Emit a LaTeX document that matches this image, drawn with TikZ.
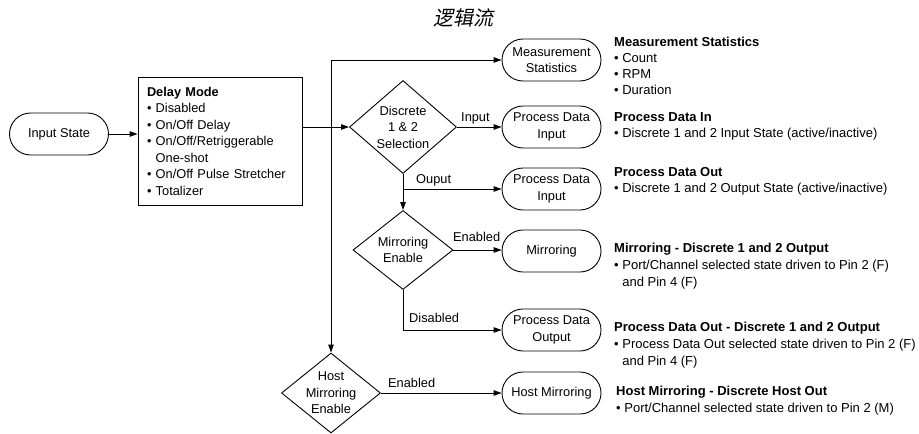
\documentclass[tikz,border=0pt]{standalone}
\usepackage{fontspec}
\setmainfont{Liberation Sans}
\newfontfamily\cjkfont[FakeSlant=0.2]{Noto Sans CJK SC}
\usetikzlibrary{arrows.meta,shapes.geometric}
\begin{document}
\begin{tikzpicture}[x=1pt,y=-1pt,
  every node/.style={font=\fontsize{12.8}{16.5}\selectfont},
  conn/.style={line width=0.9pt, -{Triangle[length=8pt,width=5.5pt]}},
  stadium/.style={draw, line width=0.9pt, rectangle, rounded corners=21pt,
    minimum width=99pt, minimum height=42pt, align=center, inner sep=0pt},
  decision/.style={draw, line width=0.9pt, diamond, inner sep=0pt},
  dtext/.style={align=center, inner sep=0pt},
  desc/.style={anchor=north west, align=left, inner sep=0pt},
  lbl/.style={anchor=base west, inner sep=0pt},
]
\useasboundingbox (0,0) rectangle (919,434);

% heading
\node[font=\cjkfont\fontsize{20}{24}\selectfont, inner sep=0pt] (title) at (463,18) {逻辑流};

% input and delay mode
\node[stadium] (input) at (59,134) {Input State};
\node[draw, line width=0.9pt, minimum width=164pt, minimum height=128pt,
      text width=146pt, inner xsep=9pt, inner ysep=0pt, align=left] (delay) at (220,141)
  {\textbf{Delay Mode}\\
   • Disabled\\
   • On/Off Delay\\
   • On/Off/Retriggerable\\
   \phantom{• }One-shot\\
   • On/Off Pulse Stretcher\\
   • Totalizer};

% decisions
\node[decision, minimum width=107pt, minimum height=93pt] (sel) at (403,127) {};
\node[dtext] (selT) at (sel) {Discrete\\1 \& 2\\Selection};
\node[decision, minimum width=100pt, minimum height=79pt] (mir) at (403,250) {};
\node[dtext] (mirT) at (mir) {Mirroring\\Enable};
\node[decision, minimum width=99pt, minimum height=80pt] (host) at (331,393) {};
\node[dtext] (hostT) at (host) {Host\\Mirroring\\Enable};

% outputs
\node[stadium] (meas)  at (551.5,60)  {Measurement\\Statistics};
\node[stadium] (pdi)   at (551.5,127) {Process Data\\Input};
\node[stadium] (pdo1)  at (551.5,189) {Process Data\\Input};
\node[stadium] (mirN)  at (551.5,251) {Mirroring};
\node[stadium] (pdo2)  at (551.5,330) {Process Data\\Output};
\node[stadium] (hostN) at (551.5,393) {Host Mirroring};

% connectors
\coordinate (split) at (331,127);
\coordinate (outJ) at (sel.south |- pdo1.west);
\draw[conn] (input.east) -- (delay.west |- input.east);
\draw[conn] (delay.east |- sel.west) -- (sel.west);
\draw[conn] (split) |- (meas.west);
\draw[conn] (split) -- (host.north);
\draw[conn] (sel.east) -- (pdi.west);
\draw[conn] (sel.south) -- (mir.north);
\draw[conn] (outJ) -- (pdo1.west);
\draw[conn] (mir.east) -- (mirN.west |- mir.east);
\draw[conn] (mir.south) |- (pdo2.west);
\draw[conn] (host.east) -- (hostN.west |- host.east);

% branch labels
\node[lbl] (lInput) at (461,121.5) {Input};
\node[lbl] (lOut)   at (416,183)   {Ouput};
\node[lbl] (lEn1)   at (453,241.5) {Enabled};
\node[lbl] (lDis)   at (409,322.5) {Disabled};
\node[lbl] (lEn2)   at (388,387.5) {Enabled};

% descriptions
\node[desc, font=\fontsize{13}{16}\selectfont] (dMeas) at (614,37.2)
  {\textbf{Measurement Statistics}\\• Count\\• RPM\\• Duration};
\node[desc, font=\fontsize{13}{16}\selectfont] (dIn) at (614,112.2)
  {\textbf{Process Data In}\\• Discrete 1 and 2 Input State (active/inactive)};
\node[desc, font=\fontsize{13}{16}\selectfont] (dOut) at (614,167.2)
  {\textbf{Process Data Out}\\• Discrete 1 and 2 Output State (active/inactive)};
\node[desc, font=\fontsize{13}{17}\selectfont] (dMir) at (614,243.2)
  {\textbf{Mirroring - Discrete 1 and 2 Output}\\• Port/Channel selected state driven to Pin 2 (F)\\\phantom{• }and Pin 4 (F)};
\node[desc, font=\fontsize{13}{17}\selectfont] (dPdo) at (614,322.2)
  {\textbf{Process Data Out - Discrete 1 and 2 Output}\\• Process Data Out selected state driven to Pin 2 (F)\\\phantom{• }and Pin 4 (F)};
\node[desc, font=\fontsize{13}{17}\selectfont] (dHost) at (616,386.2)
  {\textbf{Host Mirroring - Discrete Host Out}\\• Port/Channel selected state driven to Pin 2 (M)};
\end{tikzpicture}
\end{document}
